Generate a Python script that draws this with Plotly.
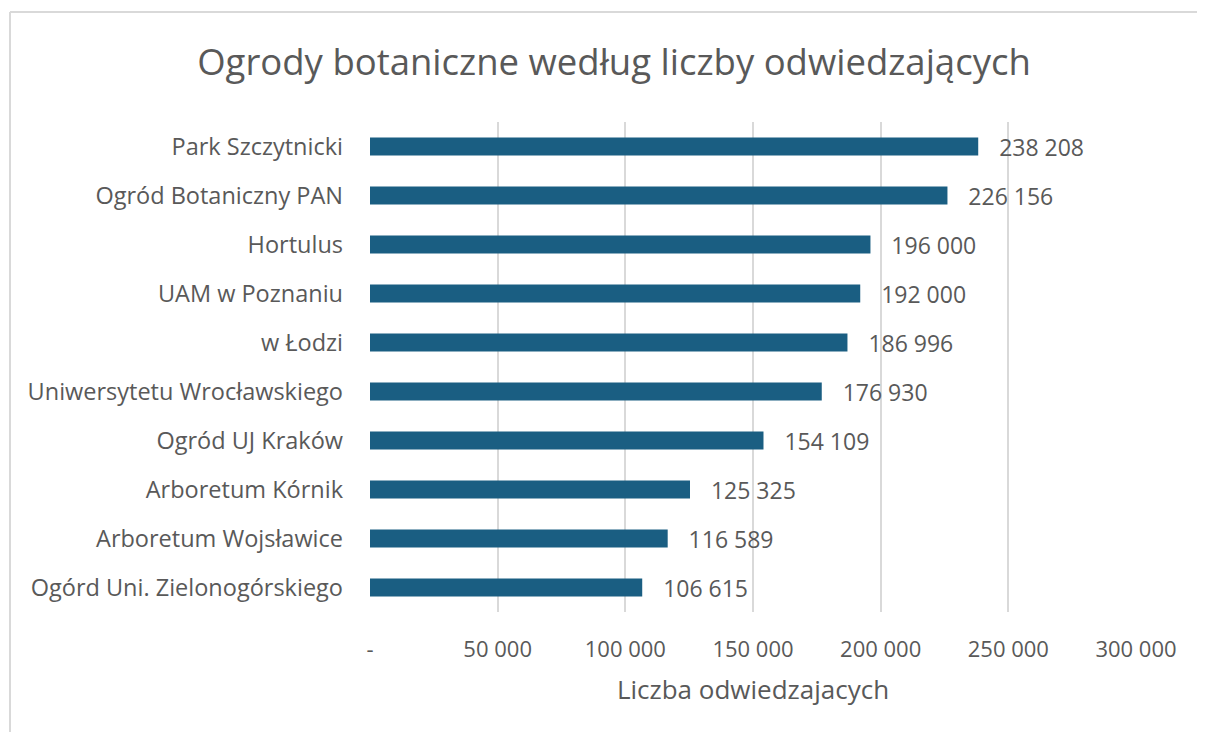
import plotly.graph_objects as go

categories = [
    "Park Szczytnicki",
    "Ogród Botaniczny PAN",
    "Hortulus",
    "UAM w Poznaniu",
    "w Łodzi",
    "Uniwersytetu Wrocławskiego",
    "Ogród UJ Kraków",
    "Arboretum Kórnik",
    "Arboretum Wojsławice",
    "Ogórd Uni. Zielonogórskiego",
]
visitors = [238208, 226156, 196000, 192000, 186996, 176930, 154109, 125325, 116589, 106615]
tick_values = [0, 50000, 100000, 150000, 200000, 250000, 300000]
tick_labels = ["-", "50 000", "100 000", "150 000", "200 000", "250 000", "300 000"]

FONT = "Open Sans"
GRAY = "#595959"

OFF = 8  # page body margin
W, H = 1205 - OFF, 740 - 2 * OFF
L = 370 - OFF
T = 122 - OFF
R = W - (1136 - OFF)
B = H - (612 - OFF)
pw, ph = W - L - R, H - T - B

fig = go.Figure(go.Bar(
    y=categories,
    x=visitors,
    orientation="h",
    marker=dict(color="#1a5e82", line=dict(width=0)),
    texttemplate="   %{x:,}",
    textposition="outside",
    constraintext="none",
    textfont=dict(family=FONT, size=23, color=GRAY),
    cliponaxis=False,
))

def px2paper_x(px):
    return (px - OFF - L) / pw

def px2paper_y(py):
    return (H - B - (py - OFF)) / ph

border = dict(color="#d9d9d9", width=2)
# chart-area frame: top and left edges (right/bottom fall outside the picture)
fig.add_shape(type="line", xref="paper", yref="paper",
              x0=px2paper_x(10), x1=px2paper_x(1230),
              y0=px2paper_y(12), y1=px2paper_y(12), line=border)
fig.add_shape(type="line", xref="paper", yref="paper",
              x0=px2paper_x(10), x1=px2paper_x(10),
              y0=px2paper_y(12), y1=px2paper_y(760), line=border)

fig.update_layout(
    width=W, height=H,
    margin=dict(l=L, r=R, t=T, b=B, pad=0),
    paper_bgcolor="white", plot_bgcolor="white",
    separators=". ",
    bargap=0.63,
    showlegend=False,
    title=dict(text="Ogrody botaniczne według liczby odwiedzających",
               x=(614 - OFF) / W, xanchor="center", xref="container",
               y=1 - (62 - OFF) / H, yanchor="middle", yref="container",
               font=dict(family=FONT, size=36.5, color=GRAY)),
    font=dict(family=FONT, color=GRAY),
    xaxis=dict(range=[0, 300000], tickvals=tick_values, ticktext=tick_labels,
               showgrid=True, gridcolor="#d9d9d9", gridwidth=2,
               zeroline=False, showline=False, ticks="",
               tickfont=dict(family=FONT, size=22, color=GRAY),
               ticklabelstandoff=22,
               title=dict(text="Liczba odwiedzajacych", standoff=18,
                          font=dict(family=FONT, size=26, color=GRAY))),
    yaxis=dict(autorange="reversed", showgrid=False, zeroline=False,
               ticks="", ticklabelstandoff=26,
               tickfont=dict(family=FONT, size=23.5, color=GRAY)),
)

fig.write_html("out.html")
